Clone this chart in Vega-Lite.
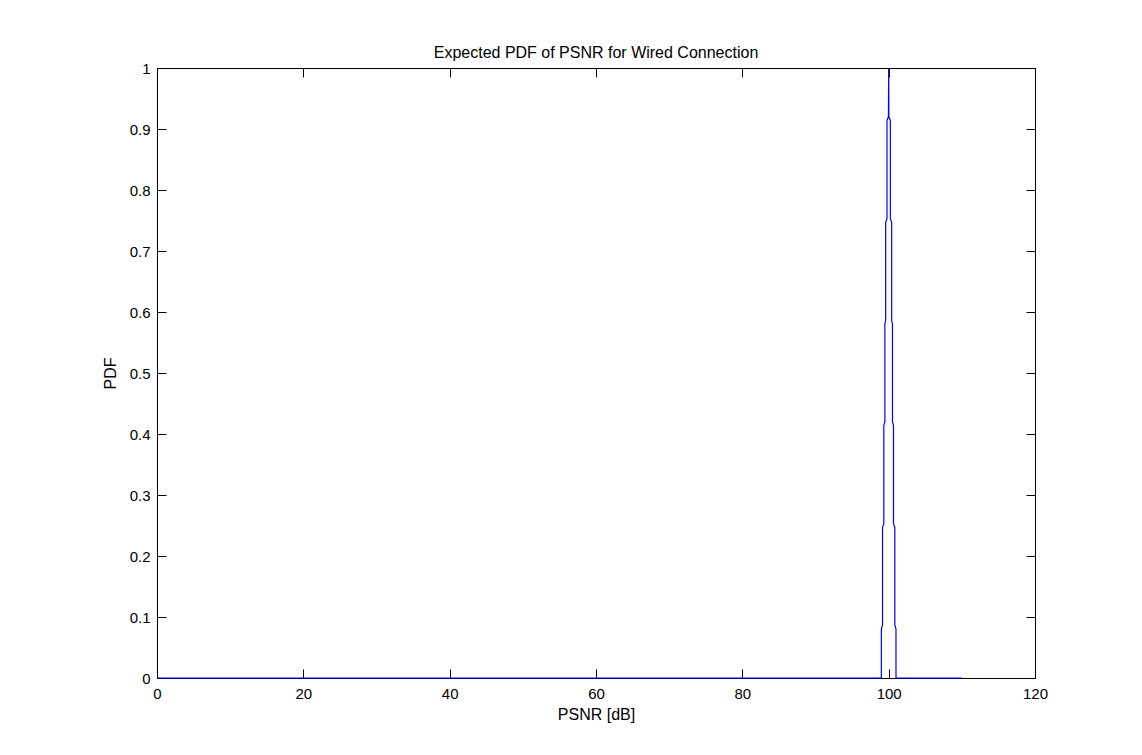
{
  "$schema": "https://vega.github.io/schema/vega-lite/v6.json",
  "autosize": "none",
  "width": 878,
  "height": 610,
  "padding": {"left": 157, "top": 68, "right": 107, "bottom": 77},
  "background": "white",
  "title": {
    "text": "Expected PDF of PSNR for Wired Connection",
    "font": "Liberation Sans",
    "fontSize": 16,
    "fontWeight": "normal",
    "color": "black",
    "offset": 0
  },
  "data": {
    "values": [
      {"i": 0, "psnr": 0, "pdf": 0},
      {"i": 1, "psnr": 99.0, "pdf": 0},
      {"i": 2, "psnr": 99.0, "pdf": 0.08},
      {"i": 3, "psnr": 99.16, "pdf": 0.087},
      {"i": 4, "psnr": 99.16, "pdf": 0.247},
      {"i": 5, "psnr": 99.34, "pdf": 0.253},
      {"i": 6, "psnr": 99.34, "pdf": 0.414},
      {"i": 7, "psnr": 99.48, "pdf": 0.42},
      {"i": 8, "psnr": 99.48, "pdf": 0.58},
      {"i": 9, "psnr": 99.59, "pdf": 0.586},
      {"i": 10, "psnr": 99.59, "pdf": 0.747},
      {"i": 11, "psnr": 99.77, "pdf": 0.753},
      {"i": 12, "psnr": 99.77, "pdf": 0.914},
      {"i": 13, "psnr": 99.97, "pdf": 0.92},
      {"i": 14, "psnr": 100.0, "pdf": 1.0},
      {"i": 15, "psnr": 100.03, "pdf": 0.92},
      {"i": 16, "psnr": 100.23, "pdf": 0.914},
      {"i": 17, "psnr": 100.23, "pdf": 0.753},
      {"i": 18, "psnr": 100.41, "pdf": 0.747},
      {"i": 19, "psnr": 100.41, "pdf": 0.586},
      {"i": 20, "psnr": 100.52, "pdf": 0.58},
      {"i": 21, "psnr": 100.52, "pdf": 0.42},
      {"i": 22, "psnr": 100.66, "pdf": 0.414},
      {"i": 23, "psnr": 100.66, "pdf": 0.253},
      {"i": 24, "psnr": 100.84, "pdf": 0.247},
      {"i": 25, "psnr": 100.84, "pdf": 0.087},
      {"i": 26, "psnr": 101.0, "pdf": 0.08},
      {"i": 27, "psnr": 101.0, "pdf": 0},
      {"i": 28, "psnr": 110, "pdf": 0}
    ]
  },
  "config": {
    "view": {"stroke": "black", "strokeWidth": 1},
    "axis": {
      "labelFont": "Liberation Sans",
      "labelFontSize": 15,
      "labelColor": "black",
      "titleFont": "Liberation Sans",
      "titleFontSize": 16,
      "titleFontWeight": "normal",
      "titleColor": "black",
      "domainColor": "black",
      "tickColor": "black",
      "tickSize": -9,
      "grid": false
    }
  },
  "resolve": {"axis": {"x": "independent", "y": "independent"}},
  "layer": [
    {
      "mark": {"type": "line", "color": "#0000ff", "strokeWidth": 1.2},
      "encoding": {
        "x": {
          "field": "psnr",
          "type": "quantitative",
          "scale": {"domain": [0, 120], "nice": false, "zero": false},
          "axis": {"orient": "bottom", "values": [0, 20, 40, 60, 80, 100, 120], "title": "PSNR [dB]", "labelPadding": 17, "titlePadding": 5, "labelFlush": false}
        },
        "y": {
          "field": "pdf",
          "type": "quantitative",
          "scale": {"domain": [0, 1], "nice": false},
          "axis": {"orient": "left", "values": [0, 0.1, 0.2, 0.3, 0.4, 0.5, 0.6, 0.7, 0.8, 0.9, 1], "format": "~g", "title": "PDF", "labelPadding": 16, "titlePadding": 11, "labelFlush": false}
        },
        "order": {"field": "i", "type": "quantitative"}
      }
    },
    {
      "mark": {"type": "line", "opacity": 0},
      "encoding": {
        "x": {
          "field": "psnr",
          "type": "quantitative",
          "axis": {"orient": "top", "values": [0, 20, 40, 60, 80, 100, 120], "labels": false, "title": null}
        },
        "y": {
          "field": "pdf",
          "type": "quantitative",
          "axis": {"orient": "right", "values": [0, 0.1, 0.2, 0.3, 0.4, 0.5, 0.6, 0.7, 0.8, 0.9, 1], "labels": false, "title": null}
        },
        "order": {"field": "i", "type": "quantitative"}
      }
    }
  ]
}
